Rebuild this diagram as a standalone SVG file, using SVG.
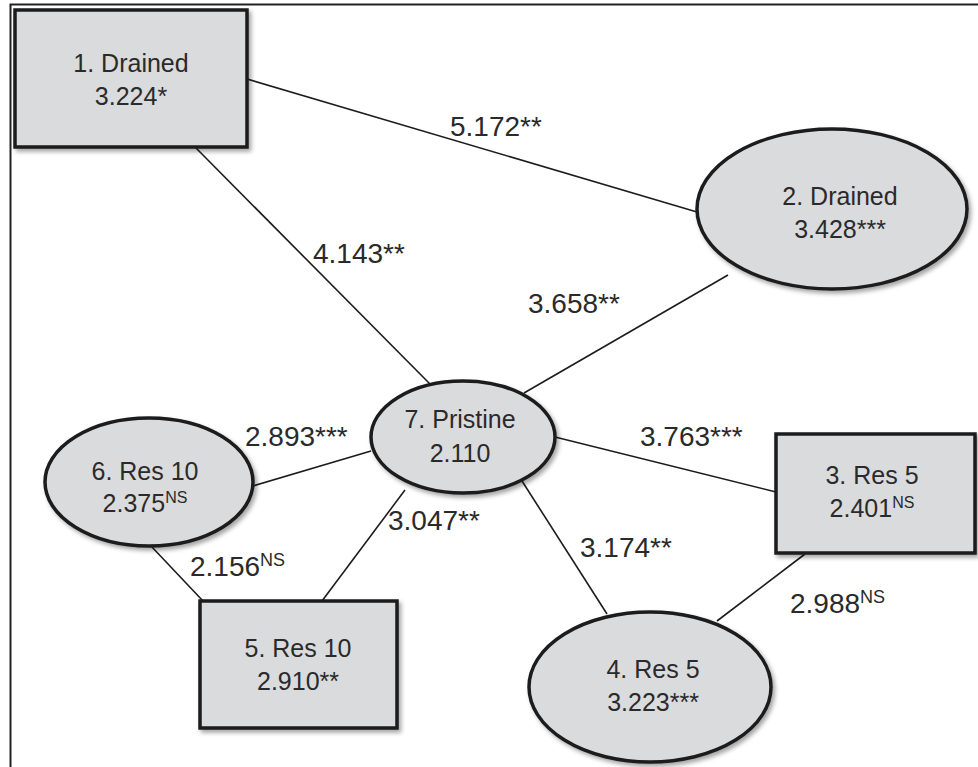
<svg xmlns="http://www.w3.org/2000/svg" width="978" height="767" viewBox="0 0 978 767">
<style>
.node{fill:#dadbdd;stroke:#1c1c1c;stroke-width:3.5;filter:url(#sh)}
.lbl{font-family:"Liberation Sans",Arial,sans-serif;font-size:25px;fill:#2a2a2a;text-anchor:middle}
.elbl{font-family:"Liberation Sans",Arial,sans-serif;font-size:28px;fill:#2a2a2a}
.sup{font-size:16px}
.esup{font-size:18px}
.edge{stroke:#1c1c1c;stroke-width:1.6;fill:none}
</style>
<defs>
<filter id="sh" x="-10%" y="-10%" width="125%" height="125%">
<feDropShadow dx="2.5" dy="3" stdDeviation="2" flood-color="#000" flood-opacity="0.35"/>
</filter>
</defs>
<rect width="978" height="767" fill="#fff"/>
<path d="M10.5 767 V4.5 H978" fill="none" stroke="#222" stroke-width="2"/>
<g id="connectors">
<line class="edge" x1="247" y1="79" x2="697" y2="212"/>
<line class="edge" x1="196" y1="148" x2="430" y2="384"/>
<line class="edge" x1="728" y1="275" x2="524" y2="393"/>
<line class="edge" x1="253" y1="486" x2="371" y2="451"/>
<line class="edge" x1="555" y1="437" x2="776" y2="492"/>
<line class="edge" x1="522" y1="481" x2="607" y2="614"/>
<line class="edge" x1="405" y1="490" x2="322" y2="601"/>
<line class="edge" x1="151" y1="546" x2="203" y2="601"/>
<line class="edge" x1="805" y1="554" x2="717" y2="621"/>
</g>
<g id="edge-labels">
<text class="elbl" x="450" y="136">5.172**</text>
<text class="elbl" x="313" y="263">4.143**</text>
<text class="elbl" x="528" y="313">3.658**</text>
<text class="elbl" x="245" y="446">2.893***</text>
<text class="elbl" x="640" y="446">3.763***</text>
<text class="elbl" x="580" y="557">3.174**</text>
<text class="elbl" x="388" y="530">3.047**</text>
<text class="elbl" x="190" y="576">2.156<tspan class="esup" dy="-10">NS</tspan></text>
<text class="elbl" x="790" y="613">2.988<tspan class="esup" dy="-10">NS</tspan></text>
</g>
<g id="node1">
<rect class="node" x="15" y="10" width="232" height="137"/>
<text class="lbl" x="131" y="72">1. Drained</text>
<text class="lbl" x="131" y="105">3.224*</text>
</g>
<g id="node2">
<ellipse class="node" cx="832" cy="209" rx="135" ry="80"/>
<text class="lbl" x="840" y="205">2. Drained</text>
<text class="lbl" x="840" y="238">3.428***</text>
</g>
<g id="node3">
<rect class="node" x="776" y="434" width="199" height="119"/>
<text class="lbl" x="872" y="484">3. Res 5</text>
<text class="lbl" x="872" y="517">2.401<tspan class="sup" dy="-9">NS</tspan></text>
</g>
<g id="node4">
<ellipse class="node" cx="650" cy="687" rx="121" ry="75"/>
<text class="lbl" x="653" y="678">4. Res 5</text>
<text class="lbl" x="653" y="711">3.223***</text>
</g>
<g id="node5">
<rect class="node" x="200" y="601" width="197" height="127"/>
<text class="lbl" x="298" y="657">5. Res 10</text>
<text class="lbl" x="298" y="690">2.910**</text>
</g>
<g id="node6">
<ellipse class="node" cx="149" cy="482" rx="104" ry="64"/>
<text class="lbl" x="145" y="480">6. Res 10</text>
<text class="lbl" x="145" y="512">2.375<tspan class="sup" dy="-9">NS</tspan></text>
</g>
<g id="node7">
<ellipse class="node" cx="463" cy="437" rx="92" ry="56"/>
<text class="lbl" x="460" y="428">7. Pristine</text>
<text class="lbl" x="460" y="462">2.110</text>
</g>
</svg>
